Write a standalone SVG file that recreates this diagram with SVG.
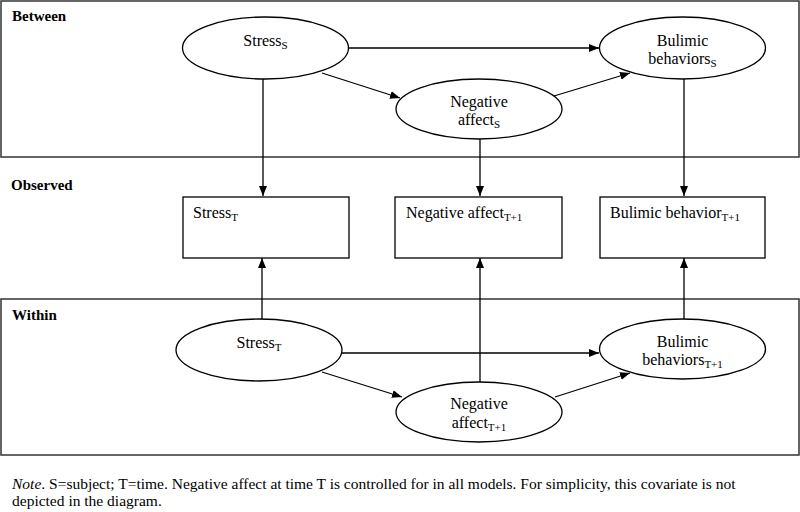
<svg xmlns="http://www.w3.org/2000/svg" width="800" height="512" viewBox="0 0 800 512">
<style>
  .panel { fill: none; stroke: #333; stroke-width: 1.5; }
  .node { fill: #fff; stroke: #000; stroke-width: 1.3; }
  .lbl { font-family: 'Liberation Serif', Tinos, 'Times New Roman', 'DejaVu Serif', serif; font-size: 16px; fill: #000; }
  .mid { text-anchor: middle; }
  .sub { font-size: 11px; }
  .head { font-family: 'Liberation Serif', Tinos, 'Times New Roman', 'DejaVu Serif', serif; font-size: 15px; font-weight: bold; fill: #000; }
  .note { font-family: 'Liberation Serif', Tinos, 'Times New Roman', 'DejaVu Serif', serif; font-size: 15.5px; fill: #000; }
  .edge { fill: none; stroke: #000; stroke-width: 1.3; }
</style>
<defs>
  <marker id="arr" markerUnits="userSpaceOnUse" markerWidth="11" markerHeight="9" refX="10" refY="4" orient="auto">
    <path d="M0,0 L10,4 L0,8 Z" fill="#000"/>
  </marker>
</defs>
<rect width="800" height="512" fill="#fff"/>

<g id="panel-between">
  <rect class="panel" x="1" y="1" width="798" height="156"/>
  <text class="head" x="12" y="21">Between</text>
</g>
<g id="panel-observed">
  <text class="head" x="11" y="190">Observed</text>
</g>
<g id="panel-within">
  <rect class="panel" x="1" y="299" width="798" height="156"/>
  <text class="head" x="12" y="320">Within</text>
</g>

<g id="connectors">
  <line class="edge" x1="348" y1="48" x2="599" y2="48" marker-end="url(#arr)"/>
  <line class="edge" x1="322" y1="73" x2="400" y2="98" marker-end="url(#arr)"/>
  <line class="edge" x1="554" y1="96" x2="630" y2="73" marker-end="url(#arr)"/>
  <line class="edge" x1="263" y1="79" x2="263" y2="196" marker-end="url(#arr)"/>
  <line class="edge" x1="480" y1="139" x2="480" y2="196" marker-end="url(#arr)"/>
  <line class="edge" x1="684" y1="79" x2="684" y2="196" marker-end="url(#arr)"/>
  <line class="edge" x1="262" y1="319" x2="262" y2="258" marker-end="url(#arr)"/>
  <line class="edge" x1="480" y1="382" x2="480" y2="258" marker-end="url(#arr)"/>
  <line class="edge" x1="684" y1="319" x2="684" y2="258" marker-end="url(#arr)"/>
  <line class="edge" x1="342" y1="353" x2="599" y2="353" marker-end="url(#arr)"/>
  <line class="edge" x1="322" y1="372" x2="402" y2="397" marker-end="url(#arr)"/>
  <line class="edge" x1="555" y1="397" x2="630" y2="373" marker-end="url(#arr)"/>
</g>

<g id="stress-s">
  <ellipse class="node" cx="265.5" cy="48" rx="83" ry="31"/>
  <text class="lbl mid" x="265.5" y="46">Stress<tspan class="sub" dy="3">S</tspan></text>
</g>
<g id="bulimic-s">
  <ellipse class="node" cx="682.5" cy="48" rx="83" ry="31"/>
  <text class="lbl mid" x="682.5" y="46">Bulimic</text>
  <text class="lbl mid" x="682.5" y="64">behaviors<tspan class="sub" dy="3">S</tspan></text>
</g>
<g id="negaff-s">
  <ellipse class="node" cx="479" cy="109" rx="83" ry="30"/>
  <text class="lbl mid" x="479" y="107">Negative</text>
  <text class="lbl mid" x="479" y="125">affect<tspan class="sub" dy="3">S</tspan></text>
</g>

<g id="obs-stress">
  <rect class="node" x="183" y="197" width="166" height="61"/>
  <text class="lbl" x="193" y="218">Stress<tspan class="sub" dy="3">T</tspan></text>
</g>
<g id="obs-negaff">
  <rect class="node" x="395" y="197" width="167" height="61"/>
  <text class="lbl" x="406" y="218">Negative affect<tspan class="sub" dy="3">T+1</tspan></text>
</g>
<g id="obs-bulimic">
  <rect class="node" x="600" y="197" width="165" height="61"/>
  <text class="lbl" x="610" y="218">Bulimic behavior<tspan class="sub" dy="3">T+1</tspan></text>
</g>

<g id="stress-t">
  <ellipse class="node" cx="259" cy="350" rx="83" ry="31"/>
  <text class="lbl mid" x="259" y="348">Stress<tspan class="sub" dy="3">T</tspan></text>
</g>
<g id="bulimic-t1">
  <ellipse class="node" cx="682.5" cy="349" rx="83" ry="30"/>
  <text class="lbl mid" x="682.5" y="347">Bulimic</text>
  <text class="lbl mid" x="682.5" y="365">behaviors<tspan class="sub" dy="3">T+1</tspan></text>
</g>
<g id="negaff-t1">
  <ellipse class="node" cx="479" cy="412" rx="83" ry="30"/>
  <text class="lbl mid" x="479" y="409">Negative</text>
  <text class="lbl mid" x="479" y="428">affect<tspan class="sub" dy="3">T+1</tspan></text>
</g>

<g id="note">
  <text class="note" x="12" y="489"><tspan font-style="italic">Note</tspan>. S=subject; T=time. Negative affect at time T is controlled for in all models. For simplicity, this covariate is not</text>
  <text class="note" x="12" y="506">depicted in the diagram.</text>
</g>
</svg>
